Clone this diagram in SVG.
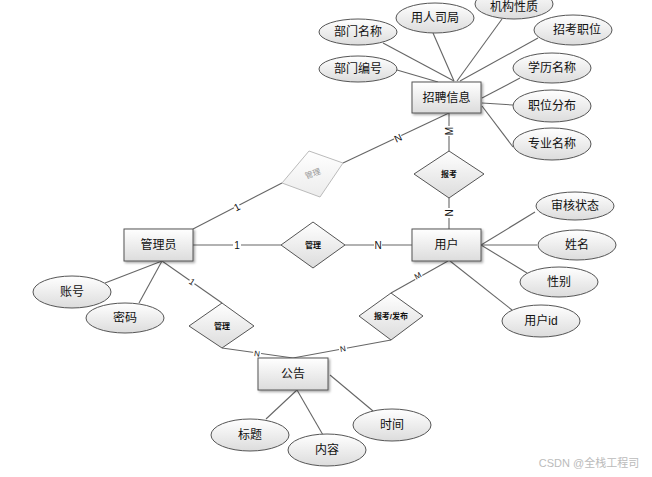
<svg xmlns="http://www.w3.org/2000/svg" width="652" height="477" viewBox="0 0 652 477">
<defs>
<linearGradient id="g" x1="0" y1="0" x2="0" y2="1">
<stop offset="0" stop-color="#ffffff"/>
<stop offset="1" stop-color="#dcdcdc"/>
</linearGradient>
<linearGradient id="gl" x1="0" y1="0" x2="0" y2="1">
<stop offset="0" stop-color="#ffffff"/>
<stop offset="1" stop-color="#ececec"/>
</linearGradient>
<filter id="sh" x="-20%" y="-20%" width="140%" height="150%">
<feDropShadow dx="1.5" dy="1.5" stdDeviation="1" flood-color="#000" flood-opacity="0.35"/>
</filter>
</defs>
<style>
text{font-family:"Liberation Sans","Noto Sans CJK SC",sans-serif;fill:#111;text-anchor:middle;dominant-baseline:central}
.ent rect{fill:url(#g);stroke:#555;stroke-width:1;filter:url(#sh)}
.ent text{font-size:12px}
.att ellipse{fill:url(#g);stroke:#555;stroke-width:1}
.att text{font-size:12px}
.rel polygon{fill:url(#g);stroke:#555;stroke-width:1}
.rel text{font-size:8px;font-weight:bold}
.faint polygon{fill:url(#gl);stroke:#bbb}
.faint text{fill:#999;font-weight:normal}
#conn line,#conn polyline{stroke:#666;stroke-width:1.1;fill:none}
.lbl{font-size:10px}
.lb{fill:#fff}
.wm{font-size:11px;fill:#bbb}
</style>
<rect width="652" height="477" fill="#fff"/>
<g id="conn">
<line x1="383" y1="43" x2="454" y2="81"/>
<line x1="397" y1="70" x2="438" y2="82"/>
<line x1="433" y1="33" x2="454" y2="81"/>
<line x1="502" y1="19" x2="457" y2="81"/>
<line x1="538" y1="38" x2="460" y2="81"/>
<line x1="482" y1="98" x2="520" y2="78"/>
<line x1="482" y1="103" x2="513" y2="105"/>
<line x1="482" y1="106" x2="513" y2="147"/>
<line x1="449" y1="113" x2="449" y2="151"/>
<line x1="449" y1="113" x2="343" y2="163"/>
<line x1="282" y1="183" x2="193" y2="229"/>
<line x1="449" y1="198" x2="449" y2="229"/>
<line x1="193" y1="245" x2="281" y2="245"/>
<line x1="345" y1="245" x2="412" y2="245"/>
<line x1="481" y1="245" x2="535" y2="212"/>
<line x1="481" y1="245" x2="537" y2="245"/>
<line x1="481" y1="245" x2="527" y2="273"/>
<line x1="450" y1="261" x2="512" y2="310"/>
<line x1="162" y1="261" x2="105" y2="283"/>
<line x1="162" y1="261" x2="139" y2="303"/>
<line x1="162" y1="261" x2="222" y2="303"/>
<polyline points="222,348 293,358 391,340"/>
<line x1="448" y1="261" x2="391" y2="293"/>
<line x1="297" y1="390" x2="266" y2="419"/>
<line x1="297" y1="390" x2="323" y2="435"/>
<line x1="330" y1="375" x2="373" y2="411"/>
<g class="lbl">
<g transform="translate(449,131) rotate(-90)"><rect class="lb" x="-5" y="-5" width="10" height="10"/><text>M</text></g>
<g transform="translate(449,213) rotate(-90)"><rect class="lb" x="-5" y="-5" width="10" height="10"/><text>N</text></g>
<g transform="translate(398,138) rotate(-25)"><rect class="lb" x="-4" y="-5" width="8" height="10"/><text>N</text></g>
<g transform="translate(237,207) rotate(-27)"><rect class="lb" x="-3" y="-5" width="6" height="10"/><text>1</text></g>
<g transform="translate(237,245)"><rect class="lb" x="-4" y="-5" width="8" height="10"/><text>1</text></g>
<g transform="translate(378,245)"><rect class="lb" x="-4" y="-5" width="8" height="10"/><text>N</text></g>
<g transform="translate(192,282) rotate(34)"><rect class="lb" x="-3" y="-5" width="6" height="10"/><text style="font-size:9px">1</text></g>
<g transform="translate(257,354) rotate(8)"><rect class="lb" x="-4" y="-4" width="8" height="8"/><text style="font-size:8px">N</text></g>
<g transform="translate(343,349) rotate(-10)"><rect class="lb" x="-4" y="-4" width="8" height="8"/><text style="font-size:8px">N</text></g>
<g transform="translate(418,276) rotate(-29)"><rect class="lb" x="-4" y="-4" width="8" height="8"/><text style="font-size:8px">M</text></g>
</g>
</g>
<g id="e-zhaopin" class="ent"><rect x="412" y="82" width="69" height="31"/><text x="446.5" y="97.5">招聘信息</text></g>
<g id="e-admin" class="ent"><rect x="124" y="229" width="69" height="32"/><text x="158.5" y="245">管理员</text></g>
<g id="e-user" class="ent"><rect x="412" y="229" width="69" height="32"/><text x="446.5" y="245">用户</text></g>
<g id="e-notice" class="ent"><rect x="258" y="358" width="70" height="32"/><text x="293" y="374">公告</text></g>
<g id="a-bmmc" class="att"><ellipse cx="358" cy="32" rx="39" ry="13"/><text x="358" y="32">部门名称</text></g>
<g id="a-bmbh" class="att"><ellipse cx="358" cy="69" rx="39" ry="13"/><text x="358" y="69">部门编号</text></g>
<g id="a-yrsj" class="att"><ellipse cx="435" cy="18" rx="39" ry="15"/><text x="435" y="18">用人司局</text></g>
<g id="a-jgxz" class="att"><ellipse cx="514" cy="4" rx="39" ry="15"/><text x="514" y="7">机构性质</text></g>
<g id="a-zkzw" class="att"><ellipse cx="573" cy="30" rx="39" ry="15"/><text x="577" y="30">招考职位</text></g>
<g id="a-xlmc" class="att"><ellipse cx="552" cy="68" rx="39" ry="15"/><text x="552" y="68">学历名称</text></g>
<g id="a-zwfb" class="att"><ellipse cx="552" cy="106" rx="39" ry="16"/><text x="552" y="106">职位分布</text></g>
<g id="a-zymc" class="att"><ellipse cx="552" cy="144" rx="39" ry="16"/><text x="552" y="144">专业名称</text></g>
<g id="a-shzt" class="att"><ellipse cx="575" cy="206" rx="39" ry="14"/><text x="575" y="206">审核状态</text></g>
<g id="a-xm" class="att"><ellipse cx="577" cy="245" rx="39" ry="15"/><text x="577" y="245">姓名</text></g>
<g id="a-xb" class="att"><ellipse cx="559" cy="282" rx="39" ry="15"/><text x="559" y="282">性别</text></g>
<g id="a-yhid" class="att"><ellipse cx="541" cy="321" rx="39" ry="16"/><text x="541" y="321">用户id</text></g>
<g id="a-zh" class="att"><ellipse cx="72" cy="292" rx="39" ry="16"/><text x="72" y="292">账号</text></g>
<g id="a-mm" class="att"><ellipse cx="125" cy="318" rx="39" ry="15"/><text x="125" y="318">密码</text></g>
<g id="a-bt" class="att"><ellipse cx="250" cy="435" rx="39" ry="16"/><text x="250" y="435">标题</text></g>
<g id="a-nr" class="att"><ellipse cx="327" cy="450" rx="39" ry="16"/><text x="327" y="450">内容</text></g>
<g id="a-sj" class="att"><ellipse cx="392" cy="425" rx="39" ry="16"/><text x="392" y="425">时间</text></g>
<g id="r-baokao" class="rel"><polygon points="449,151 484,174 449,198 414,174"/><text x="449" y="174">报考</text></g>
<g id="r-guanli1" class="rel faint"><polygon points="309,151 343,163 320,197 282,183"/><text x="313" y="174" transform="rotate(-20 313 174)">管理</text></g>
<g id="r-guanli2" class="rel"><polygon points="281,245 313,222 345,245 313,268"/><text x="313" y="245">管理</text></g>
<g id="r-guanli3" class="rel"><polygon points="189,326 222,303 254,326 222,348"/><text x="222" y="326">管理</text></g>
<g id="r-baokaofabu" class="rel"><polygon points="359,316 391,293 423,316 391,340"/><text x="391" y="316">报考/发布</text></g>
<text class="wm" x="589" y="463">CSDN @全栈工程司</text>
</svg>
